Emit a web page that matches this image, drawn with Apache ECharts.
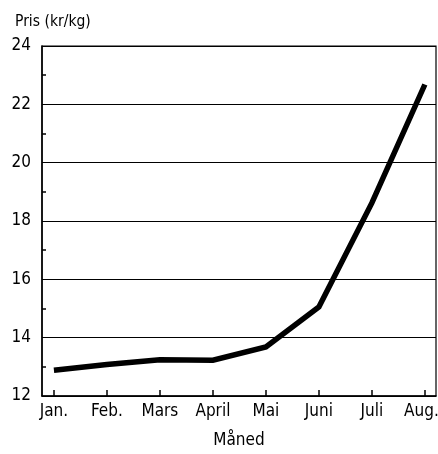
<!DOCTYPE html>
<html>
<head>
<meta charset="utf-8">
<script src="https://cdn.jsdelivr.net/npm/echarts@6/dist/echarts.min.js"></script>
<style>
html,body{margin:0;padding:0;background:#fff;}
#c{width:438px;height:454px;}
</style>
</head>
<body>
<div id="c"></div>
<script>
const months = ['Jan.', 'Feb.', 'Mars', 'April', 'Mai', 'Juni', 'Juli', 'Aug.'];
const prices = [12.88, 13.08, 13.24, 13.23, 13.68, 15.05, 18.62, 22.68];
const yTicks = [12, 14, 16, 18, 20, 22, 24];

const FONT = "'Liberation Sans Narrow', 'DejaVu Sans Condensed', 'Liberation Sans', sans-serif";
const chart = echarts.init(document.getElementById('c'));
const monthPos = months.map((m, i) => i + 1);

chart.setOption({
  animation: false,
  backgroundColor: '#fff',
  textStyle: { fontFamily: FONT, color: '#000' },
  title: {
    text: 'Pris (kr/kg)',
    left: 15, top: 14, padding: 0,
    textStyle: { fontFamily: FONT, fontSize: 15.5, fontWeight: 'normal', color: '#000' }
  },
  grid: {
    left: 42, right: 2, top: 46, bottom: 58,
    outerBoundsMode: 'none',
    containLabel: false,
    show: true, borderColor: '#000', borderWidth: 1.2, backgroundColor: 'transparent'
  },
  xAxis: {
    type: 'value',
    min: 0.775, max: 8.21,
    name: 'Måned',
    nameLocation: 'middle',
    nameGap: 36,
    nameTextStyle: { fontFamily: FONT, fontSize: 17, color: '#000' },
    axisLine: { show: true, lineStyle: { color: '#000', width: 1.5 } },
    axisTick: { show: true, inside: true, length: 6, customValues: monthPos, lineStyle: { color: '#000', width: 1.5 } },
    axisLabel: {
      customValues: monthPos,
      formatter: v => {
        const i = Math.round(v) - 1;
        const t = months[i] || '';
        return i === months.length - 1 ? '{last|' + t + '}' : t;
      },
      rich: { last: { fontFamily: FONT, fontSize: 17, color: '#000', padding: [0, 7, 0, 0] } },
      fontFamily: FONT, fontSize: 17, color: '#000', margin: 7, hideOverlap: false
    },
    splitLine: { show: false }
  },
  yAxis: {
    type: 'value',
    min: yTicks[0], max: yTicks[yTicks.length - 1], interval: 2,
    axisLine: { show: true, lineStyle: { color: '#000', width: 1.5 } },
    axisTick: { show: false, inside: true },
    minorTick: { show: true, splitNumber: 2, length: 4, lineStyle: { color: '#000', width: 1.5 } },
    axisLabel: { fontFamily: FONT, fontSize: 17, color: '#000', margin: 11 },
    splitLine: { show: true, lineStyle: { color: '#000', width: 1.2 } }
  },
  series: [{
    type: 'line',
    data: prices.map((p, i) => [monthPos[i], p]),
    showSymbol: false,
    symbol: 'none',
    lineStyle: { color: '#000', width: 5.5, join: 'miter' }
  }]
});
</script>
</body>
</html>
